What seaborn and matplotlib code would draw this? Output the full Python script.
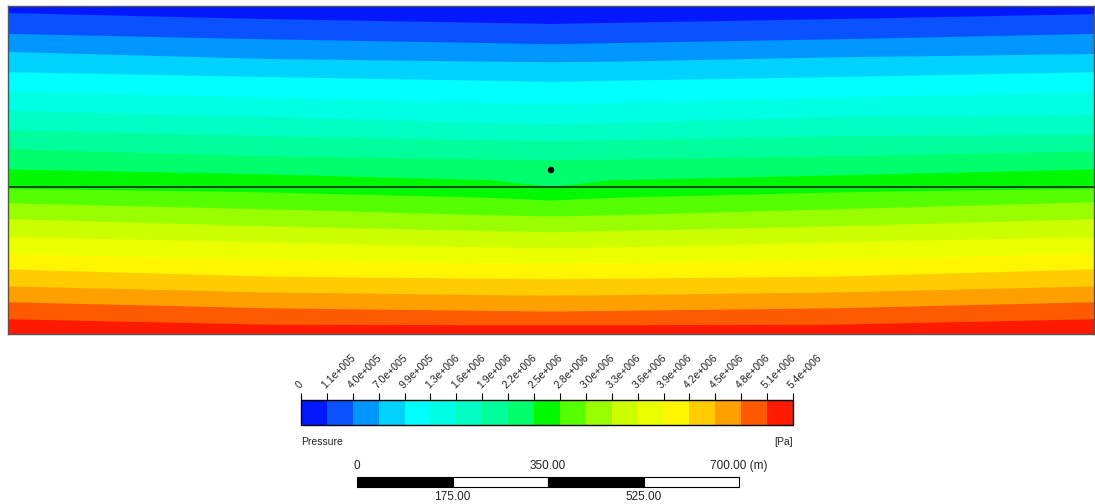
import matplotlib
matplotlib.use("Agg")
import matplotlib.pyplot as plt
from matplotlib.colors import ListedColormap, BoundaryNorm
from matplotlib.cm import ScalarMappable
import seaborn as sns

# pressure legend levels [Pa] and their labels
levels = [0, 1.1e5, 4.0e5, 7.0e5, 9.9e5, 1.3e6, 1.6e6, 1.9e6, 2.2e6, 2.5e6,
          2.8e6, 3.0e6, 3.3e6, 3.6e6, 3.9e6, 4.2e6, 4.5e6, 4.8e6, 5.1e6, 5.4e6]
level_labels = ["0", "1.1e+005", "4.0e+005", "7.0e+005", "9.9e+005",
                "1.3e+006", "1.6e+006", "1.9e+006", "2.2e+006", "2.5e+006",
                "2.8e+006", "3.0e+006", "3.3e+006", "3.6e+006", "3.9e+006",
                "4.2e+006", "4.5e+006", "4.8e+006", "5.1e+006", "5.4e+006"]
band_colors = ["#0418ff", "#0a52ff", "#0096ff", "#00d2ff", "#00ffff",
               "#00ffe4", "#00ffc4", "#00ff9c", "#00ff6c", "#00f800",
               "#55ff00", "#99ff00", "#ccff00", "#eaff00", "#fff500",
               "#ffcc00", "#ffa000", "#ff5a00", "#ff1a00"]

# x stations along the section [m]
x_st = [0, 475, 890, 1000, 1110, 1525, 2000]
# depth [m] of each contour line (levels 1.1e5 ... 5.1e6) at the x stations
line_depth = [
    [12, 23, 30, 32, 30, 23, 14],
    [50, 60, 67, 69, 67, 60, 50],
    [83, 96, 101, 102, 101, 93, 87],
    [120, 129, 136, 138, 136, 129, 120],
    [155, 166, 176, 179, 176, 166, 157],
    [191, 202, 213, 215, 213, 202, 198],
    [226, 237, 245, 246, 245, 237, 235],
    [261, 274, 280, 281, 280, 274, 265],
    [298, 307, 318, 330, 318, 309, 298],
    [333, 340, 350, 355, 350, 340, 333],
    [360, 371, 382, 384, 382, 371, 358],
    [389, 402, 411, 413, 411, 402, 389],
    [422, 431, 441, 442, 441, 431, 422],
    [453, 463, 469, 470, 469, 463, 452],
    [481, 494, 498, 499, 498, 494, 481],
    [512, 523, 528, 529, 528, 523, 512],
    [541, 552, 557, 558, 557, 552, 541],
    [572, 582, 583, 583, 583, 582, 572],
]
domain_width = 2000
domain_depth = 600
layer_depth = 331
well_x = [1000]
well_z = [300]

scale_ticks = [0, 175, 350, 525, 700]
scale_labels = ["0", "175.00", "350.00", "525.00", "700.00 (m)"]

sns.set_style("white")
plt.rcParams["font.family"] = ["Liberation Sans", "DejaVu Sans"]
txt = "#222222"

fig = plt.figure(figsize=(10.95, 5.04), dpi=100)
W, H = 1095, 504


def px_axes(x0, y0, x1, y1):
    return fig.add_axes([x0 / W, 1 - y1 / H, (x1 - x0) / W, (y1 - y0) / H])


# main contour section
ax = px_axes(8, 6, 1094, 334)
ax.fill_between(x_st, 0, domain_depth, color=band_colors[0], lw=0)
for d, c in zip(line_depth, band_colors[1:]):
    ax.fill_between(x_st, d, domain_depth, color=c, lw=0)
ax.axhline(layer_depth, color="#1a2a1a", lw=1.2)
sns.scatterplot(x=well_x, y=well_z, ax=ax, color="black", s=22, edgecolor="none", zorder=5)
ax.set_xlim(0, domain_width)
ax.set_ylim(domain_depth, 0)
ax.set_xticks([])
ax.set_yticks([])
for s in ax.spines.values():
    s.set_color("#555555")
    s.set_linewidth(1)

# legend colour bar
cmap = ListedColormap(band_colors)
norm = BoundaryNorm(levels, cmap.N)
cax = px_axes(301, 400, 793, 425)
cb = fig.colorbar(ScalarMappable(norm=norm, cmap=cmap), cax=cax,
                  orientation="horizontal", spacing="uniform", ticks=levels)
cb.outline.set_linewidth(1)
cb.outline.set_edgecolor("black")
cax.xaxis.set_ticks_position("top")
cax.tick_params(axis="x", length=5, width=0.8, color="black", pad=2,
                labelsize=7.5, labelcolor=txt)
cb.set_ticklabels(level_labels)
for lab in cax.get_xticklabels():
    lab.set_rotation(45)
    lab.set_ha("left")
    lab.set_va("bottom")
    lab.set_rotation_mode("anchor")
fig.text(301 / W, 1 - 442 / H, "Pressure", fontsize=7.5, color=txt, ha="left", va="center")
fig.text(793 / W, 1 - 442 / H, "[Pa]", fontsize=7.5, color=txt, ha="right", va="center")

# scale bar
sax = px_axes(357, 477, 739, 487)
for i in range(len(scale_ticks) - 1):
    sax.barh(0.5, scale_ticks[i + 1] - scale_ticks[i], left=scale_ticks[i], height=1,
             color="black" if i % 2 == 0 else "white", edgecolor="black", lw=0.8,
             clip_on=False)
sax.set_xlim(scale_ticks[0], scale_ticks[-1])
sax.set_ylim(0, 1)
sax.axis("off")
for i, (v, lab) in enumerate(zip(scale_ticks, scale_labels)):
    if i % 2 == 0:
        sax.text(v, 1.5, lab, ha="center", va="bottom", fontsize=8.5, color=txt,
                 transform=sax.get_xaxis_transform())
    else:
        sax.text(v, -0.4, lab, ha="center", va="top", fontsize=8.5, color=txt,
                 transform=sax.get_xaxis_transform())

fig.savefig("out.png", dpi=100)
